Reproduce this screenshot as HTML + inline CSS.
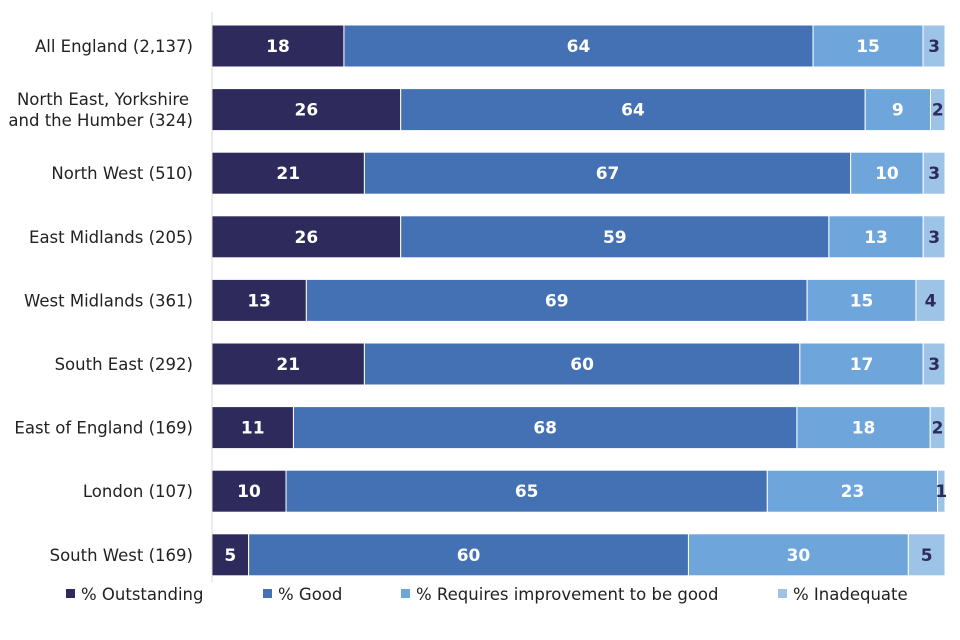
<!DOCTYPE html>
<html><head><meta charset="utf-8">
<style>
html,body{margin:0;padding:0;background:#fff;}
svg{display:block;font-family:"DejaVu Sans","Liberation Sans",sans-serif;}
</style></head>
<body>
<svg id="chart" width="960" height="640" viewBox="0 0 960 640"></svg>
<script>
const categories = ["All England (2,137)","North East, Yorkshire|and the Humber (324)","North West (510)","East Midlands (205)","West Midlands (361)","South East (292)","East of England (169)","London (107)","South West (169)"];
const outstanding = [18,26,21,26,13,21,11,10,5];
const good = [64,64,67,59,69,60,68,65,60];
const requiresImprovement = [15,9,10,13,15,17,18,23,30];
const inadequate = [3,2,3,3,4,3,2,1,5];
const seriesNames = ["% Outstanding","% Good","% Requires improvement to be good","% Inadequate"];

const NS="http://www.w3.org/2000/svg";
const svg=document.getElementById('chart');
const x0=212, plotW=733, top0=25, step=63.6, barH=42;
const colors=["#2e2a5c","#4471b4","#6ea6dc","#9dc3e6"];
const textColors=["#fff","#fff","#fff","#2e2a5c"];
const series=[outstanding,good,requiresImprovement,inadequate];
const keys=["outstanding","good","requires-improvement","inadequate"];
function xScale(v,total){return v/total*plotW;}
function yScale(i){return top0+i*step;}
function mk(tag,attrs){const e=document.createElementNS(NS,tag);for(const k in attrs)e.setAttribute(k,attrs[k]);return e;}

categories.forEach((cat,i)=>{
  const total=series.reduce((s,a)=>s+a[i],0);
  let cx=x0;
  const y=yScale(i);
  series.forEach((arr,s)=>{
    const w=xScale(arr[i],total);
    const r=mk('rect',{x:cx,y:y,width:w,height:barH,fill:colors[s],stroke:'#fff','stroke-width':1});
    
    
    svg.appendChild(r);
    const t=mk('text',{x:cx+w/2,y:y+barH/2+6,'text-anchor':'middle','font-size':17,'font-weight':'bold',fill:textColors[s]});
    t.textContent=arr[i];
    
    
    svg.appendChild(t);
    cx+=w;
  });
  const lines=cat.split('|');
  const lt=mk('text',{x:193,'text-anchor':'end','font-size':16.5,fill:'#222'});
  
  
  lines.forEach((ln,j)=>{
    const ts=mk('tspan',{x:193,y:y+barH/2+6+(j-(lines.length-1)/2)*21});
    if(lines.length>1 && j===0) ts.setAttribute('x',189);
    ts.textContent=ln;lt.appendChild(ts);
  });
  svg.appendChild(lt);
});
const ax=mk('line',{x1:x0,y1:12,x2:x0,y2:582,stroke:'#d9d9d9','stroke-width':1});


svg.appendChild(ax);

const legX=[66,263,401,778];
seriesNames.forEach((n,s)=>{
  const g=mk('g',{});
  
  
  g.appendChild(mk('rect',{x:legX[s],y:589,width:9,height:9,fill:colors[s]}));
  const t=mk('text',{x:legX[s]+15,y:600,'font-size':16.5,fill:'#222'});
  t.textContent=n;g.appendChild(t);
  svg.appendChild(g);
});
</script>
</body></html>
